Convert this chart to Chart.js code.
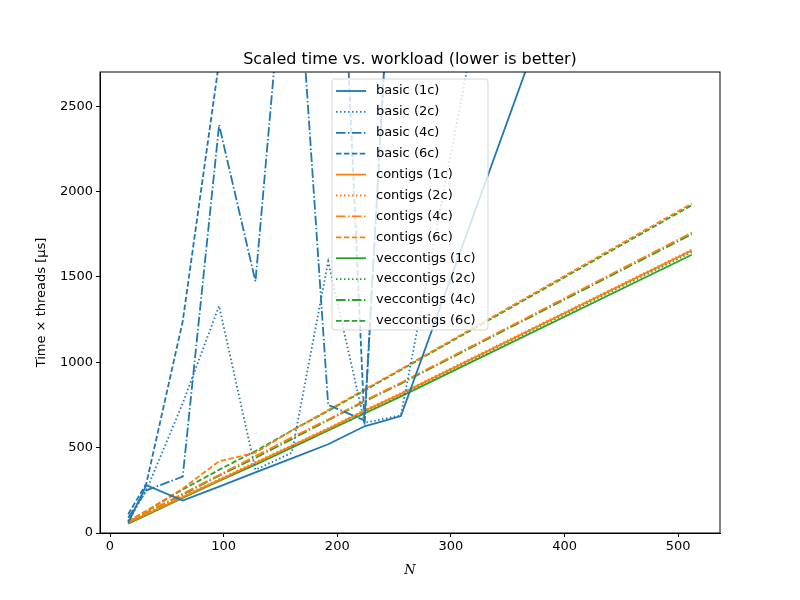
<!DOCTYPE html>
<html>
<head>
<meta charset="utf-8">
<script src="https://cdn.jsdelivr.net/npm/chart.js@4"></script>
<style>
  body { margin: 0; background: #fff; }
  #wrap { width: 800px; height: 600px; }
</style>
</head>
<body>
<div id="wrap"><canvas id="chart" width="800" height="600"></canvas></div>
<script>
// workload sizes
const sizes = [16, 32, 64, 96, 128, 160, 192, 224, 256, 512];

// scaled time per variant (µs)
const basic1 = [60, 280, 190, 272, 355, 437, 520, 625, 685, 5400];
const basic2 = [70, 250, 760, 1330, 370, 470, 1590, 645, 690, 9600];
const basic4 = [90, 250, 330, 2390, 1473, 3900, 750, 660, 4500, 20000];
const basic6 = [110, 290, 1240, 2760, 4800, 5500, 5360, 635, 4500, 20000];
const contigs1 = [60, 110, 210, 310, 410, 510, 610, 715, 815, 1655];
const contigs2 = [62, 112, 215, 315, 415, 515, 615, 720, 820, 1660];
const contigs4 = [65, 120, 230, 340, 450, 560, 665, 775, 880, 1760];
const contigs6 = [70, 130, 260, 420, 470, 600, 720, 840, 960, 1930];
const vec1 = [55, 105, 205, 305, 400, 500, 600, 700, 800, 1630];
const vec2 = [58, 108, 210, 310, 410, 505, 605, 710, 810, 1645];
const vec4 = [62, 118, 225, 335, 440, 550, 660, 770, 875, 1750];
const vec6 = [68, 128, 255, 370, 480, 600, 715, 835, 955, 1920];

const xTicks = [0, 100, 200, 300, 400, 500];
const yTicks = [0, 500, 1000, 1500, 2000, 2500];

const BLUE = '#1f77b4', ORANGE = '#ff7f0e', GREEN = '#2ca02c';
const styles = {
    '1c': [],
    '2c': [1.5, 2.5],
    '4c': [9.6, 2.4, 1.5, 2.4],
    '6c': [5.5, 2.4]
};

const series = [
    ['basic (1c)', basic1, BLUE, '1c'],
    ['basic (2c)', basic2, BLUE, '2c'],
    ['basic (4c)', basic4, BLUE, '4c'],
    ['basic (6c)', basic6, BLUE, '6c'],
    ['contigs (1c)', contigs1, ORANGE, '1c'],
    ['contigs (2c)', contigs2, ORANGE, '2c'],
    ['contigs (4c)', contigs4, ORANGE, '4c'],
    ['contigs (6c)', contigs6, ORANGE, '6c'],
    ['veccontigs (1c)', vec1, GREEN, '1c'],
    ['veccontigs (2c)', vec2, GREEN, '2c'],
    ['veccontigs (4c)', vec4, GREEN, '4c'],
    ['veccontigs (6c)', vec6, GREEN, '6c']
];

const datasets = series.map(([label, vals, color, st]) => ({
    label: label,
    data: vals.map((v, i) => ({ x: sizes[i], y: v })),
    borderColor: color,
    backgroundColor: color,
    borderDash: styles[st],
    borderWidth: 1.8,
    pointRadius: 0,
    tension: 0,
    fill: false
}));

// frame, title, axis labels and legend drawn by hand (matplotlib look)
const decor = {
    id: 'decor',
    afterDraw(chart) {
        const ctx = chart.ctx;
        const a = chart.chartArea;
        ctx.save();
        ctx.strokeStyle = '#000';
        ctx.lineWidth = 1;
        ctx.strokeRect(a.left, a.top, a.right - a.left, a.bottom - a.top);

        ctx.fillStyle = '#000';
        ctx.font = '16px "DejaVu Sans"';
        ctx.textAlign = 'center';
        ctx.textBaseline = 'alphabetic';
        ctx.fillText('Scaled time vs. workload (lower is better)', (a.left + a.right) / 2, 64);

        ctx.font = 'italic 13px "DejaVu Serif"';
        ctx.fillText('N', (a.left + a.right) / 2, 574);

        ctx.save();
        ctx.translate(45, (a.top + a.bottom) / 2);
        ctx.rotate(-Math.PI / 2);
        ctx.font = '13px "DejaVu Sans"';
        ctx.fillText('Time \u00d7 threads [\u00b5s]', 0, 0);
        ctx.restore();

        // legend
        const lx = 332, ly = 79, lw = 156, lh = 251;
        ctx.fillStyle = 'rgba(255,255,255,0.8)';
        ctx.strokeStyle = 'rgba(204,204,204,0.8)';
        ctx.beginPath();
        ctx.roundRect(lx, ly, lw, lh, 3);
        ctx.fill();
        ctx.stroke();
        ctx.font = '13px "DejaVu Sans"';
        ctx.textAlign = 'left';
        ctx.textBaseline = 'middle';
        series.forEach(([label, , color, st], i) => {
            const y = ly + 12 + i * 20.9;
            ctx.strokeStyle = color;
            ctx.lineWidth = 1.8;
            ctx.setLineDash(styles[st]);
            ctx.beginPath();
            ctx.moveTo(lx + 4, y);
            ctx.lineTo(lx + 34, y);
            ctx.stroke();
            ctx.setLineDash([]);
            ctx.fillStyle = '#000';
            ctx.fillText(label, lx + 44, y);
        });
        ctx.restore();
    }
};

const tickFont = { family: 'DejaVu Sans', size: 13 };

new Chart(document.getElementById('chart'), {
    type: 'line',
    data: { datasets: datasets },
    options: {
        responsive: false,
        animation: false,
        layout: { padding: { top: 72, right: 80, left: 0, bottom: 0 } },
        plugins: { legend: { display: false }, tooltip: { enabled: false } },
        scales: {
            x: {
                type: 'linear',
                min: -8.8,
                max: 536.8,
                afterBuildTicks: s => { s.ticks = xTicks.map(v => ({ value: v })); },
                afterFit: s => { s.height = 67; },
                grid: { drawOnChartArea: false, tickLength: 4, color: '#000' },
                border: { color: '#000' },
                ticks: { color: '#000', font: tickFont, padding: 2, maxRotation: 0, callback: v => String(v) }
            },
            y: {
                min: 0,
                max: 2700,
                afterBuildTicks: s => { s.ticks = yTicks.map(v => ({ value: v })); },
                afterFit: s => { s.width = 100; },
                grid: { drawOnChartArea: false, tickLength: 4, color: '#000' },
                border: { color: '#000' },
                ticks: { color: '#000', font: tickFont, padding: 3, callback: v => String(v) }
            }
        }
    },
    plugins: [decor]
});
</script>
</body>
</html>
